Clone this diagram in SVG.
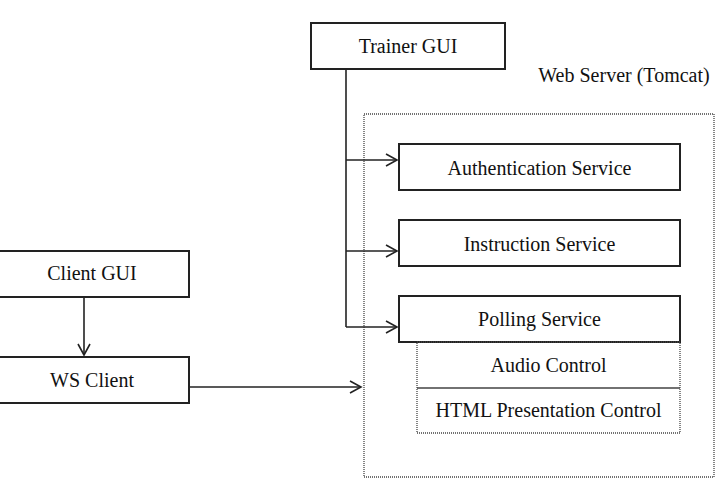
<svg xmlns="http://www.w3.org/2000/svg" width="722" height="478" viewBox="0 0 722 478">
<style>
text{font-family:"Liberation Serif","Times New Roman",serif;font-size:20px;fill:#111;text-anchor:middle}
.box{fill:#fff;stroke:#222;stroke-width:2}
.dot{fill:none;stroke:#444;stroke-width:1.3;stroke-dasharray:1 1}
.ln{fill:none;stroke:#222;stroke-width:1.6}
</style>
<defs>
<marker id="ah" markerWidth="14" markerHeight="14" refX="12" refY="7" orient="auto" markerUnits="userSpaceOnUse">
<path d="M1,1 L12,7 L1,13" fill="none" stroke="#222" stroke-width="1.6"/>
</marker>
</defs>
<g id="web-server">
<rect class="dot" x="364" y="114" width="350" height="363"/>
<text x="624" y="82">Web Server (Tomcat)</text>
</g>
<g id="connectors">
<path class="ln" d="M346,69 V327"/>
<path class="ln" d="M346,160 H397" marker-end="url(#ah)"/>
<path class="ln" d="M346,251 H397" marker-end="url(#ah)"/>
<path class="ln" d="M346,327 H397" marker-end="url(#ah)"/>
<path class="ln" d="M84,297 V355" marker-end="url(#ah)"/>
<path class="ln" d="M189,387 H361" marker-end="url(#ah)"/>
</g>
<g id="trainer-gui">
<rect class="box" x="311" y="23" width="194" height="46"/>
<text x="408" y="53">Trainer GUI</text>
</g>
<g id="auth-service">
<rect class="box" x="399" y="144" width="281" height="46"/>
<text x="539.5" y="174.5">Authentication Service</text>
</g>
<g id="instruction-service">
<rect class="box" x="399" y="220" width="281" height="46"/>
<text x="539.5" y="250.5">Instruction Service</text>
</g>
<g id="polling-service">
<rect class="box" x="399" y="296" width="281" height="46"/>
<text x="539.5" y="326">Polling Service</text>
</g>
<g id="audio-control">
<rect class="dot" x="417" y="342" width="263" height="46"/>
<text x="548.5" y="372">Audio Control</text>
</g>
<g id="html-presentation-control">
<rect class="dot" x="417" y="388" width="263" height="45"/>
<text x="548.5" y="417">HTML Presentation Control</text>
</g>
<g id="client-gui">
<rect class="box" x="-5" y="251" width="194" height="46"/>
<text x="92" y="280">Client GUI</text>
</g>
<g id="ws-client">
<rect class="box" x="-5" y="357" width="194" height="46"/>
<text x="92" y="387">WS Client</text>
</g>
</svg>
